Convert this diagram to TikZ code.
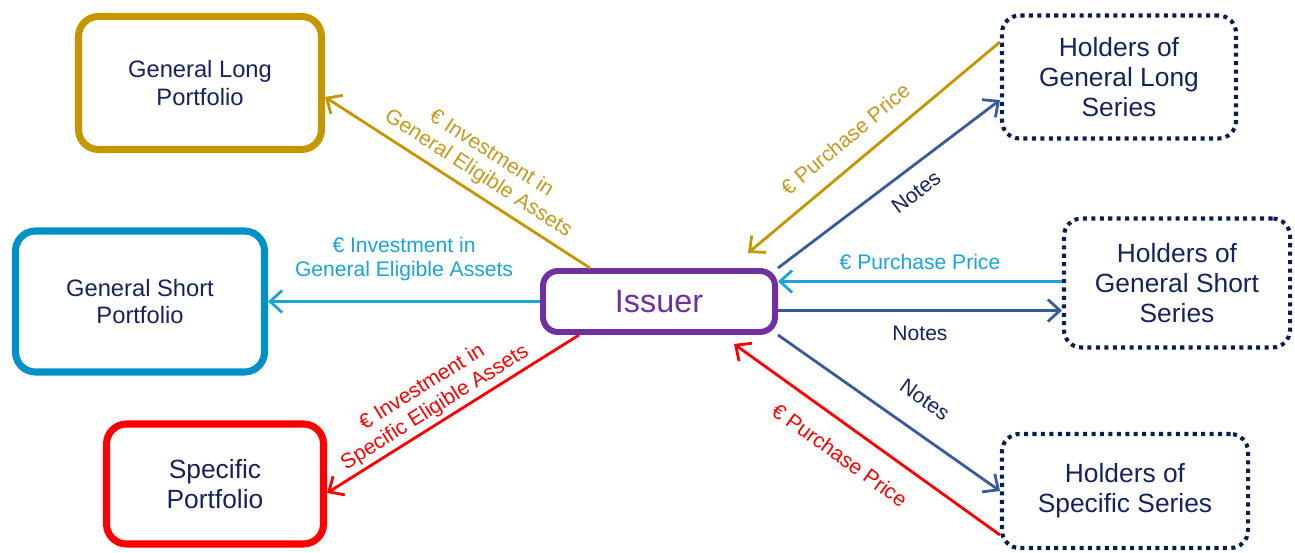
\documentclass[tikz,border=0pt]{standalone}
\usepackage{fontspec}
\setmainfont{Liberation Sans}
\usetikzlibrary{arrows.meta}

\definecolor{goldc}{HTML}{C49600}
\definecolor{goldtxt}{HTML}{C39A1C}
\definecolor{cyanbox}{HTML}{0090C8}
\definecolor{cyanc}{HTML}{1AA4DA}
\definecolor{redc}{HTML}{FF0000}
\definecolor{purplec}{HTML}{7030A0}
\definecolor{navytxt}{HTML}{13235E}
\definecolor{navydot}{HTML}{0B1D4F}
\definecolor{notesc}{HTML}{3A5A99}

\begin{document}
\begin{tikzpicture}[
    portbox/.style={draw, line width=4pt, rounded corners=0.4cm, align=center, text=navytxt, inner sep=0pt},
    holdbox/.style={draw=navydot, line width=2.3pt, dash pattern=on 2.3pt off 2.5pt, rounded corners=0.35cm,
                    align=center, text=navytxt, inner sep=0pt, font=\fontsize{15}{17}\selectfont},
    flow/.style={line width=1.6pt, -{Straight Barb[length=0.24cm,width=0.44cm,line width=1.6pt]}},
    lbl/.style={font=\fontsize{12}{13.7}\selectfont, align=center, inner sep=2pt}
]
    \useasboundingbox (0,0) rectangle (25.9,11.06);

    % Portfolios
    \node[portbox, draw=goldc, minimum width=4.86cm, minimum height=2.66cm, font=\fontsize{13.5}{15.4}\selectfont]
        (glp) at (4.0,9.4) {General Long\\Portfolio};
    \node[portbox, draw=cyanbox, minimum width=4.98cm, minimum height=2.82cm, font=\fontsize{13.5}{15.4}\selectfont]
        (gsp) at (2.8,5.03) {General Short\\Portfolio};
    \node[portbox, draw=redc, minimum width=4.34cm, minimum height=2.4cm, font=\fontsize{15}{17}\selectfont]
        (sp) at (4.3,1.38) {Specific\\Portfolio};

    % Issuer
    \node[draw=purplec, line width=3.4pt, rounded corners=0.3cm, minimum width=4.64cm, minimum height=1.22cm,
          text=purplec, font=\fontsize{18.4}{20}\selectfont] (iss) at (13.18,5.03) {Issuer};

    % Holders
    \node[holdbox, minimum width=4.68cm, minimum height=2.46cm] (hgl) at (22.38,9.52) {Holders of\\General Long\\Series};
    \node[holdbox, minimum width=4.52cm, minimum height=2.58cm] (hgs) at (23.54,5.4) {Holders of\\General Short\\Series};
    \node[holdbox, minimum width=4.92cm, minimum height=2.28cm] (hss) at (22.5,1.24) {Holders of\\Specific Series};

    % Investments from the issuer
    \draw[flow, goldc] ([xshift=1cm]iss.north west) -- ([yshift=-0.28cm]glp.east)
        node[lbl, text=goldtxt, sloped, above=2pt, pos=0.46] {€ Investment in\\General Eligible Assets};
    \draw[flow, cyanc] (iss.west) -- (gsp.east)
        node[lbl, text=cyanc, above=9pt, midway] {€ Investment in\\General Eligible Assets};
    \draw[flow, redc] ([xshift=0.78cm]iss.south west) -- ([yshift=-0.18cm]sp.east)
        node[lbl, text=redc, sloped, above=0pt, pos=0.54] {€ Investment in\\Specific Eligible Assets};

    % General Long Series
    \draw[flow, goldc] ([yshift=0.7cm]hgl.west) -- ([xshift=-0.6cm,yshift=0.3cm]iss.north east)
        node[lbl, text=goldtxt, sloped, above=7pt, pos=0.55] {€ Purchase Price};
    \draw[flow, notesc] (iss.north east) -- ([yshift=-0.46cm]hgl.west)
        node[lbl, text=navytxt, sloped, below=6pt, pos=0.56] {Notes};

    % General Short Series
    \coordinate (ppin) at ([yshift=0.4cm]iss.east);
    \coordinate (ntout) at ([yshift=-0.18cm]iss.east);
    \draw[flow, cyanc] (ppin -| hgs.west) -- (ppin)
        node[lbl, text=cyanc, above=4pt, midway] {€ Purchase Price};
    \draw[flow, notesc] (ntout) -- (ntout -| hgs.west)
        node[lbl, text=navytxt, below=6pt, midway] {Notes};

    % Specific Series
    \draw[flow, notesc] (iss.south east) -- (hss.west)
        node[lbl, text=navytxt, sloped, above=11pt, pos=0.58] {Notes};
    \draw[flow, redc] ([yshift=-0.88cm]hss.west) -- ([xshift=-0.88cm,yshift=-0.18cm]iss.south east)
        node[lbl, text=redc, sloped, below=9pt, pos=0.54] {€ Purchase Price};
\end{tikzpicture}
\end{document}
